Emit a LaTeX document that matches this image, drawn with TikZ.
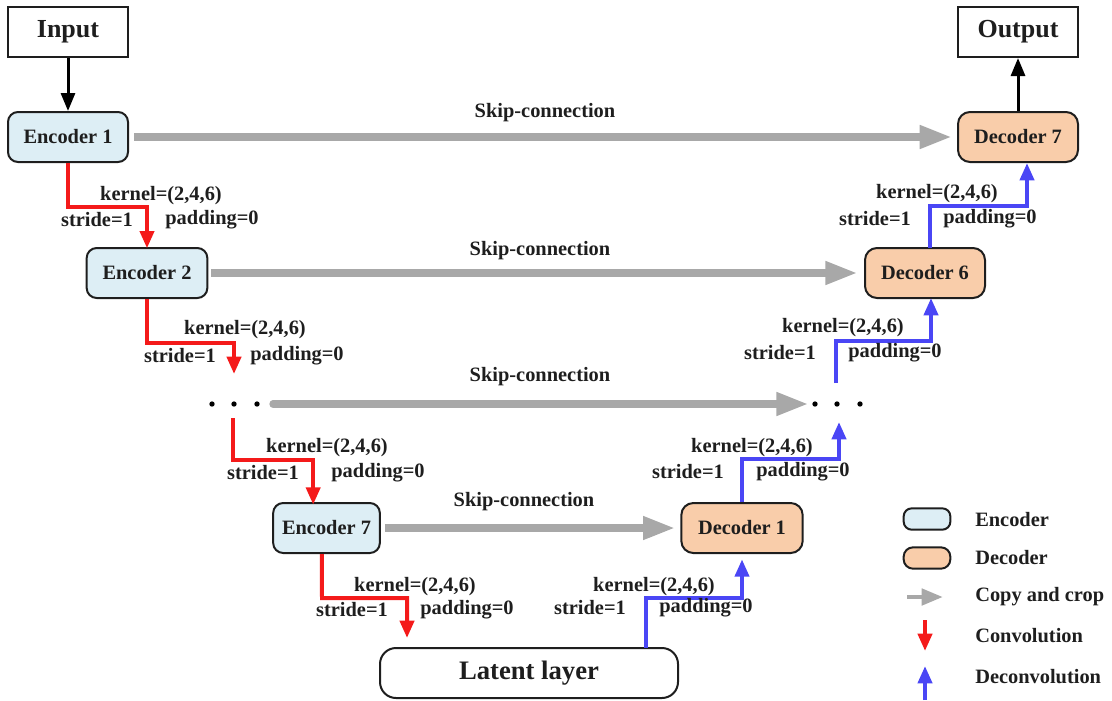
\documentclass[tikz,border=0pt]{standalone}
\usepackage{fontspec}
\setmainfont{Liberation Serif}
\usetikzlibrary{arrows.meta}
\definecolor{encfill}{HTML}{DDEEF5}
\definecolor{decfill}{HTML}{F9CDAA}
\definecolor{skipgray}{HTML}{A8A8A8}
\definecolor{convred}{HTML}{F41A1A}
\definecolor{deconvblue}{HTML}{4A46F5}
\definecolor{txt}{HTML}{1E1E1E}
\tikzset{
  lbl/.style={font=\fontsize{15.3}{17}\selectfont\bfseries, text=txt, inner sep=0pt},
  bigbox/.style={draw=txt, line width=1.5pt, fill=white, minimum width=90pt, minimum height=37.5pt,
    font=\fontsize{19.5}{22}\selectfont\bfseries, text=txt, inner sep=0pt},
  encbox/.style={draw=txt, line width=1.5pt, fill=encfill, rounded corners=7.5pt, minimum height=37.5pt,
    font=\fontsize{15.3}{17}\selectfont\bfseries, text=txt, inner sep=0pt},
  decbox/.style={draw=txt, line width=1.5pt, fill=decfill, rounded corners=9pt, minimum height=37.5pt,
    font=\fontsize{15.3}{17}\selectfont\bfseries, text=txt, inner sep=0pt},
  conv/.style={draw=convred, line width=3pt, -{Triangle[length=13pt,width=10.5pt]}},
  deconv/.style={draw=deconvblue, line width=3pt, -{Triangle[length=13pt,width=10.5pt]}},
  skip/.style={draw=skipgray, line width=5.5pt, -{Triangle[length=24pt,width=16.5pt]}},
  io/.style={draw=black, line width=2.25pt, -{Triangle[length=13.5pt,width=10.5pt]}},
  dot/.style={circle, fill=black, inner sep=0pt, minimum size=4pt},
}
\begin{document}
\begin{tikzpicture}[x=0.75pt,y=-0.75pt]
\useasboundingbox (0,0) rectangle (1112,700);
% boxes
\node[bigbox] (input) at (68,32) {Input};
\node[bigbox] (output) at (1018,32) {Output};
\node[encbox, minimum width=90pt] (enc1) at (68,137) {Encoder 1};
\node[decbox, minimum width=90pt] (dec7) at (1018,137) {Decoder 7};
\node[encbox, minimum width=90.5pt] (enc2) at (147,273) {Encoder 2};
\node[decbox, minimum width=90pt] (dec6) at (925,273) {Decoder 6};
\node[encbox, minimum width=80pt] (enc7) at (326.5,528) {Encoder 7};
\node[decbox, minimum width=91pt] (dec1) at (742,528) {Decoder 1};
\node[draw=txt, line width=1.5pt, fill=white, rounded corners=12pt, minimum width=223.5pt, minimum height=37.5pt,
  font=\fontsize{20}{22}\selectfont\bfseries, text=txt, inner sep=0pt] (latent) at (529,673) {Latent layer};
% dots
\node[dot] (ld1) at (212,404) {};
\node[dot] (ld2) at (234,404) {};
\node[dot] (ld3) at (257,404) {};
\node[dot] (rd1) at (815,404) {};
\node[dot] (rd2) at (837,404) {};
\node[dot] (rd3) at (860,404) {};
% coordinates
\coordinate (ldin) at (234,374);
\coordinate (ldout) at (233,418);
\coordinate (rdin) at (839,422);
\coordinate (rdout) at (836,383);
\coordinate (latin) at (407,638);
\coordinate (latout) at (646,648);
\coordinate (d7in) at (1027,163);
\coordinate (d6out) at (930,248);
\coordinate (d6in) at (931,298);
% input/output
\draw[io] (input.south) -- (enc1.north);
\draw[io] (dec7.north) -- (output.south);
% skip connections
\draw[skip, shorten <=4pt, shorten >=4pt] (enc1.east) -- (dec7.west);
\draw[skip, shorten <=2pt, shorten >=5pt] (enc2.east) -- (dec6.west);
\draw[skip, line cap=round] ([xshift=12pt]ld3.center) -- ([xshift=-5pt]rd1.center);
\draw[skip, shorten <=3pt, shorten >=4pt] (enc7.east) -- (dec1.west);
\node[lbl] (sk1) at (545,113) {Skip-connection};
\node[lbl] (sk2) at (540,251) {Skip-connection};
\node[lbl] (sk3) at (540,377) {Skip-connection};
\node[lbl] (sk4) at (524,502) {Skip-connection};
% convolutions
\draw[conv] (enc1.south) -- (68,207) -| ([yshift=-1pt]enc2.north);
\draw[conv] (enc2.south) -- (147,343) -| (ldin);
\draw[conv] (ldout) -- (233,460) -| ([xshift=-10pt,yshift=-2pt]enc7.north);
\draw[conv] ([xshift=-3.5pt]enc7.south) -- (322,598) -| (latin);
% deconvolutions
\draw[deconv] (latout) -- (646,598) -| ([yshift=-4pt]dec1.south);
\draw[deconv] (dec1.north) -- (742,459) -| (rdin);
\draw[deconv] (rdout) -- (836,341) -| (d6in);
\draw[deconv] (d6out) -- (930,206) -| (d7in);
% labels
\node[lbl] (k1) at (161,196) {kernel=(2,4,6)};
\node[lbl] (s1) at (97,220) {stride=1};
\node[lbl] (p1) at (212,220) {padding=0};
\node[lbl] (k2) at (245,330) {kernel=(2,4,6)};
\node[lbl] (s2) at (180,356) {stride=1};
\node[lbl] (p2) at (297,356) {padding=0};
\node[lbl] (k3) at (327,448) {kernel=(2,4,6)};
\node[lbl] (s3) at (263,473) {stride=1};
\node[lbl] (p3) at (378,473) {padding=0};
\node[lbl] (k4) at (415,587) {kernel=(2,4,6)};
\node[lbl] (s4) at (352,610) {stride=1};
\node[lbl] (p4) at (467,610) {padding=0};
\node[lbl] (k5) at (654,587) {kernel=(2,4,6)};
\node[lbl] (s5) at (590,608) {stride=1};
\node[lbl] (p5) at (706,608) {padding=0};
\node[lbl] (k6) at (752,448) {kernel=(2,4,6)};
\node[lbl] (s6) at (688,472) {stride=1};
\node[lbl] (p6) at (803,472) {padding=0};
\node[lbl] (k7) at (843,328) {kernel=(2,4,6)};
\node[lbl] (s7) at (780,353) {stride=1};
\node[lbl] (p7) at (895,353) {padding=0};
\node[lbl] (k8) at (937,194) {kernel=(2,4,6)};
\node[lbl] (s8) at (875,219) {stride=1};
\node[lbl] (p8) at (990,219) {padding=0};
% legend
\node[draw=txt, line width=1.5pt, fill=encfill, rounded corners=6pt, minimum width=35pt, minimum height=16pt, inner sep=0pt] (lenc) at (927,519) {};
\node[draw=txt, line width=1.5pt, fill=decfill, rounded corners=7pt, minimum width=35pt, minimum height=16pt, inner sep=0pt] (ldec) at (927,558) {};
\coordinate (lcs) at (907,597);
\coordinate (lce) at (943,597);
\draw[draw=skipgray, line width=3.5pt, -{Triangle[length=16pt,width=12pt]}] (lcs) -- (lce);
\coordinate (lrs) at (925,620);
\coordinate (lre) at (925,651);
\draw[conv] (lrs) -- (lre);
\coordinate (lbs) at (925,700);
\coordinate (lbe) at (925,666);
\draw[deconv] (lbs) -- (lbe);
\node[lbl, anchor=west] (t1) at (975,520) {Encoder};
\node[lbl, anchor=west] (t2) at (975,558) {Decoder};
\node[lbl, anchor=west] (t3) at (975,597) {Copy and crop};
\node[lbl, anchor=west] (t4) at (975,636) {Convolution};
\node[lbl, anchor=west] (t5) at (975,677) {Deconvolution};
\end{tikzpicture}
\end{document}
